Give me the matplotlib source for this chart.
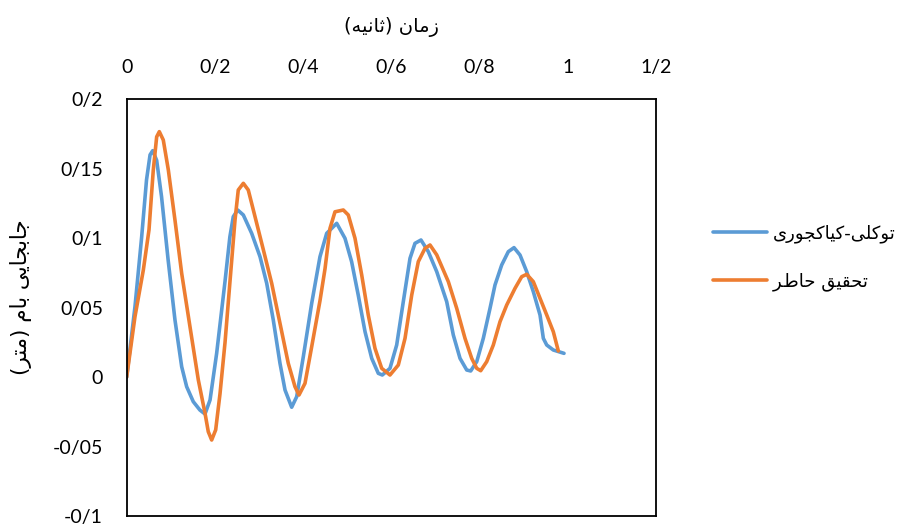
"""
    roof displacement time history: comparison of two studies
"""

import matplotlib
matplotlib.use("Agg")
import matplotlib.pyplot as plt
from matplotlib.ticker import FixedLocator, FuncFormatter

# time (s) and roof displacement (m)
t_ref = [0, 0.0188, 0.034, 0.045, 0.053, 0.059, 0.068, 0.079, 0.094, 0.1095, 0.1247,
         0.136, 0.151, 0.166, 0.1776, 0.189, 0.204, 0.223, 0.234, 0.2417, 0.2517, 0.2645,
         0.2834, 0.3023, 0.3175, 0.3324, 0.3476, 0.359, 0.3741, 0.3855, 0.4005, 0.4195,
         0.4383, 0.4535, 0.4762, 0.495, 0.51, 0.525, 0.5404, 0.5556, 0.5705, 0.5796,
         0.597, 0.6122, 0.6272, 0.6424, 0.6537, 0.6673, 0.6839, 0.703, 0.7256, 0.7406,
         0.7558, 0.771, 0.78, 0.7937, 0.8086, 0.8238, 0.8351, 0.8503, 0.8653, 0.8782,
         0.8918, 0.907, 0.922, 0.9372, 0.9447, 0.9524, 0.9673, 0.9916]
d_ref = [0, 0.0507, 0.101, 0.142, 0.16, 0.163, 0.156, 0.13, 0.0843, 0.0411, 0.0075,
         -0.0069, -0.0177, -0.0237, -0.0266, -0.0165, 0.0171, 0.069, 0.101, 0.1155, 0.1203, 0.1167,
         0.1035, 0.0867, 0.0675, 0.0411, 0.0099, -0.0093, -0.0217, -0.0141, 0.0147, 0.0531,
         0.0867, 0.1035, 0.1107, 0.0999, 0.0831, 0.0591, 0.0327, 0.0135, 0.0027, 0.0015,
         0.0063, 0.0231, 0.0543, 0.0855, 0.0963, 0.0987, 0.0903, 0.0759, 0.0543, 0.0303,
         0.0135, 0.0051, 0.0044, 0.0111, 0.0279, 0.0495, 0.0663, 0.0807, 0.0903, 0.0932,
         0.0879, 0.0759, 0.0615, 0.0447, 0.0279, 0.0231, 0.0195, 0.0171]

t_now = [0, 0.0188, 0.0377, 0.0506, 0.0603, 0.068, 0.074, 0.083, 0.0945, 0.1095, 0.1247,
         0.1435, 0.1624, 0.1776, 0.185, 0.1927, 0.2018, 0.2116, 0.223, 0.234, 0.2456, 0.253,
         0.2645, 0.2757, 0.291, 0.31, 0.3288, 0.3476, 0.3664, 0.3816, 0.3907, 0.4043, 0.4195,
         0.4383, 0.4497, 0.461, 0.4723, 0.4912, 0.5025, 0.5177, 0.5329, 0.5478, 0.563, 0.5782,
         0.597, 0.6159, 0.6311, 0.6463, 0.6612, 0.6764, 0.6878, 0.703, 0.7293, 0.7483, 0.7671,
         0.7823, 0.7937, 0.8027, 0.8163, 0.8313, 0.8465, 0.8617, 0.8805, 0.8957, 0.907, 0.922,
         0.9372, 0.9524, 0.9673, 0.9787]
d_now = [0, 0.0435, 0.077, 0.106, 0.149, 0.173, 0.1767, 0.1707, 0.149, 0.113, 0.0747,
         0.0363, -0.002, -0.026, -0.0393, -0.0453, -0.038, -0.012, 0.025, 0.068, 0.113, 0.1347,
         0.1395, 0.1347, 0.1155, 0.0915, 0.0675, 0.0387, 0.0099, -0.0069, -0.0129, -0.0045, 0.0219,
         0.055, 0.078, 0.1071, 0.119, 0.1203, 0.1167, 0.0999, 0.0735, 0.0447, 0.0207, 0.0063,
         0.0015, 0.0087, 0.0279, 0.0591, 0.0831, 0.0927, 0.0951, 0.088, 0.0687, 0.0495, 0.0279,
         0.0135, 0.0063, 0.0046, 0.0111, 0.0231, 0.0399, 0.0519, 0.0639, 0.0723, 0.074, 0.0687,
         0.0567, 0.0447, 0.0327, 0.0188]

x_ticks = [0, 0.2, 0.4, 0.6, 0.8, 1.0, 1.2]
y_ticks = [-0.1, -0.05, 0, 0.05, 0.1, 0.15, 0.2]

x_title = "زمان (ثانیه)"
y_title = "جابجایی بام (متر)"
names = ["توکلی-کیاکجوری", "تحقیق حاضر"]
colors = ["#5B9BD5", "#ED7D31"]


# matplotlib has no arabic shaping, so pick presentation forms by hand
# (isolated, final, initial, medial); None for letters joining only to the right
FORMS = {
    "ا": ("\uFE8D", "\uFE8E", None, None),
    "ب": ("\uFE8F", "\uFE90", "\uFE91", "\uFE92"),
    "ت": ("\uFE95", "\uFE96", "\uFE97", "\uFE98"),
    "ث": ("\uFE99", "\uFE9A", "\uFE9B", "\uFE9C"),
    "ج": ("\uFE9D", "\uFE9E", "\uFE9F", "\uFEA0"),
    "ح": ("\uFEA1", "\uFEA2", "\uFEA3", "\uFEA4"),
    "ر": ("\uFEAD", "\uFEAE", None, None),
    "ز": ("\uFEAF", "\uFEB0", None, None),
    "ض": ("\uFEBF", "\uFEC0", "\uFEC1", "\uFEC2"),
    "ق": ("\uFED5", "\uFED6", "\uFED7", "\uFED8"),
    "ل": ("\uFEDD", "\uFEDE", "\uFEDF", "\uFEE0"),
    "م": ("\uFEE1", "\uFEE2", "\uFEE3", "\uFEE4"),
    "ن": ("\uFEE5", "\uFEE6", "\uFEE7", "\uFEE8"),
    "ه": ("\uFEE9", "\uFEEA", "\uFEEB", "\uFEEC"),
    "و": ("\uFEED", "\uFEEE", None, None),
    "ی": ("\uFBFC", "\uFBFD", "\uFBFE", "\uFBFF"),
    "ک": ("\uFB8E", "\uFB8F", "\uFB90", "\uFB91"),
}
MIRROR = {"(": ")", ")": "("}


def shape(s):
    out = []
    for i, c in enumerate(s):
        if c not in FORMS:
            out.append(MIRROR.get(c, c))
            continue
        f = FORMS[c]
        prev = s[i - 1] if i > 0 else ""
        nxt = s[i + 1] if i + 1 < len(s) else ""
        join_prev = prev in FORMS and FORMS[prev][2] is not None
        join_next = f[2] is not None and nxt in FORMS
        if join_prev and join_next:
            out.append(f[3])
        elif join_prev:
            out.append(f[1])
        elif join_next:
            out.append(f[2])
        else:
            out.append(f[0])
    return "".join(reversed(out))


def persian_num(v, pos):
    s = ("%.2f" % v).rstrip("0").rstrip(".")
    if s == "-0":
        s = "0"
    return s.replace(".", "/")


plt.rcParams["font.family"] = ["Lato", "DejaVu Sans"]

fig = plt.figure(figsize=(9.01, 5.24), dpi=100)
ax = fig.add_axes([0.1406, 0.0153, 0.728 - 0.1406, 0.8105 - 0.0153])

ax.plot(t_ref, d_ref, color=colors[0], lw=2.6, label=shape(names[0]),
        solid_joinstyle="round", solid_capstyle="round")
ax.plot(t_now, d_now, color=colors[1], lw=2.6, label=shape(names[1]),
        solid_joinstyle="round", solid_capstyle="round")

ax.set_xlim(0, 1.2)
ax.set_ylim(-0.1, 0.2)
ax.xaxis.set_major_locator(FixedLocator(x_ticks))
ax.yaxis.set_major_locator(FixedLocator(y_ticks))
ax.xaxis.set_major_formatter(FuncFormatter(persian_num))
ax.yaxis.set_major_formatter(FuncFormatter(persian_num))
ax.xaxis.tick_top()
ax.xaxis.set_label_position("top")
ax.tick_params(length=0, labelsize=14, colors="#000000")
ax.tick_params(axis="x", pad=17)
ax.tick_params(axis="y", pad=17)

for sp in ax.spines.values():
    sp.set_linewidth(1.3)
    sp.set_color("black")

ax.set_xlabel(shape(x_title), fontsize=14, labelpad=19, family="DejaVu Sans")
ax.set_ylabel(shape(y_title), fontsize=15.5, family="DejaVu Sans")
ax.yaxis.set_label_coords(-0.178, 0.526)

fig.legend(loc="center left", bbox_to_anchor=(713 / 901, 0.5086), frameon=False,
           handlelength=3.0, handletextpad=0.33, labelspacing=1.6,
           borderpad=0, borderaxespad=0,
           prop={"family": "DejaVu Sans", "size": 13})

fig.savefig("out.png", dpi=100)
